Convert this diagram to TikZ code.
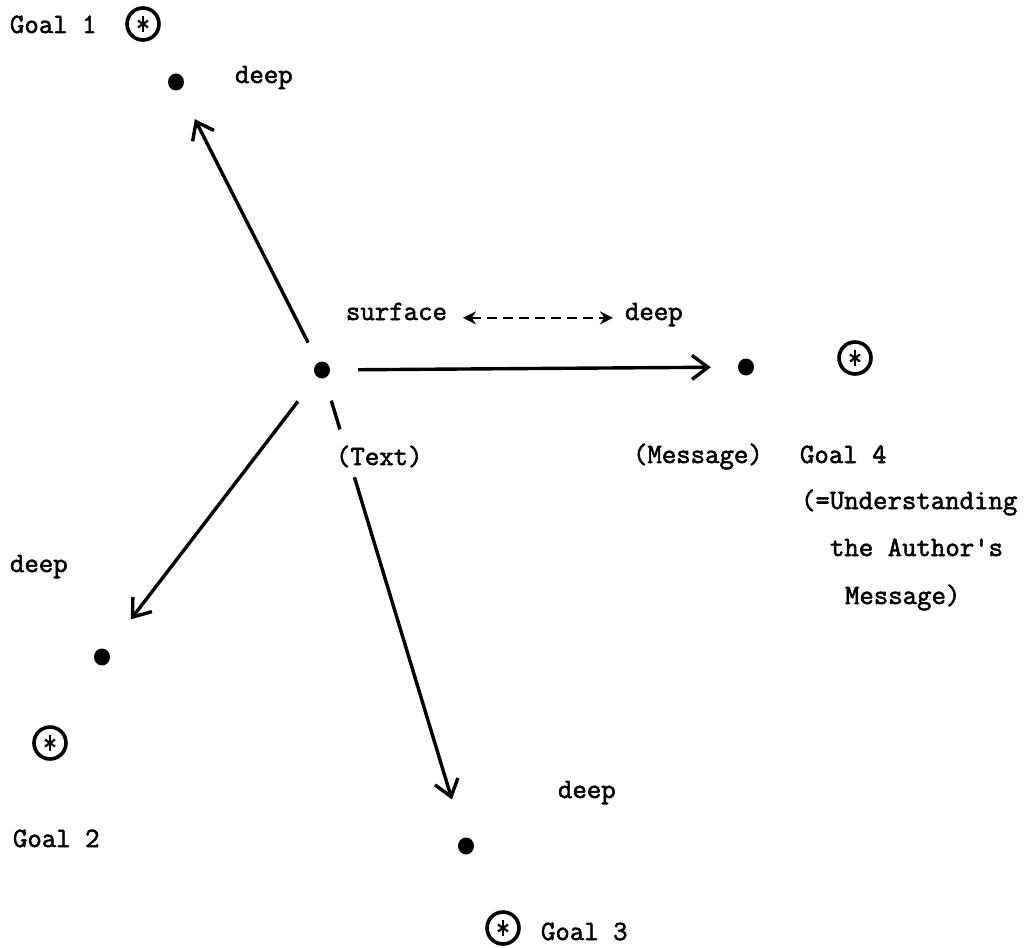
\documentclass[tikz,border=0pt]{standalone}
\usepackage{fontspec}
\newfontfamily\twfont{Latin Modern Mono}[FakeBold=2]
\usetikzlibrary{arrows.meta,calc,shapes.geometric}
\begin{document}
\begin{tikzpicture}[x=1pt,y=-1pt,
  dotnode/.style={ellipse,fill=black,inner sep=0pt,minimum width=16pt,minimum height=17pt},
  goalnode/.style={circle,draw=black,line width=3.6pt,inner sep=0pt,minimum size=32pt,
    path picture={
      \draw[line width=2.6pt] ([yshift=8pt]path picture bounding box.center) -- ([yshift=-8pt]path picture bounding box.center);
      \draw[line width=2.2pt] ([shift={(-5pt,-3.5pt)}]path picture bounding box.center) -- ([shift={(5pt,3.5pt)}]path picture bounding box.center);
      \draw[line width=2.2pt] ([shift={(-5pt,3.5pt)}]path picture bounding box.center) -- ([shift={(5pt,-3.5pt)}]path picture bounding box.center);
    }},
  lbl/.style={inner sep=0pt,outer sep=0pt,anchor=base west,font={\twfont\fontsize{28}{33}\selectfont}},
  mainline/.style={line width=3.4pt},
  mainarr/.style={line width=3.4pt,-{Straight Barb[length=16pt,width=24pt]}},
  dasharr/.style={line width=2.4pt,dash pattern=on 10pt off 6pt,{Stealth[length=13pt,width=13pt]}-{Stealth[length=13pt,width=13pt]}}]
\useasboundingbox (0,0) rectangle (1032,947);
\fill[white] (0,0) rectangle (1032,947);
% dots
\node[dotnode] (c) at (322,370) {};
\node[dotnode] (d1) at (176,82) {};
\node[dotnode] (d2) at (102,657) {};
\node[dotnode] (d3) at (466,846) {};
\node[dotnode] (d4) at (746,367) {};
% goals
\node[goalnode] (g1) at (143,24) {};
\node[goalnode] (g2) at (50,743) {};
\node[goalnode] (g3) at (503,928) {};
\node[goalnode] (g4) at (855,358) {};
% labels
\node[lbl] (t1) at (10,33) {Goal 1};
\node[lbl] (deep1) at (235,83) {deep};
\node[lbl] (surf) at (346,320) {surface};
\node[lbl] (deep4) at (625,320) {deep};
\node[lbl] (text) at (336,465) {(Text)};
\node[lbl] (msg) at (633,463) {(Message)};
\node[lbl] (goal4) at (800,463) {Goal 4};
\node[lbl] (u1) at (801,509) {(=Understanding};
\node[lbl] (u2) at (830,556) {the Author's};
\node[lbl] (u3) at (845,604) {Message)};
\node[lbl] (deep2) at (10,572) {deep};
\node[lbl] (goal2) at (13,847) {Goal 2};
\node[lbl] (deep3) at (558,798) {deep};
\node[lbl] (goal3) at (541,940) {Goal 3};
% connectors
\draw[mainarr,shorten <=22pt,shorten >=33pt] (c) -- (d1);
\draw[mainarr,shorten <=28pt,shorten >=27pt] (c) -- (d4);
\draw[mainarr,shorten <=31pt,shorten >=39pt] (c) -- (d2);
\draw[mainline] ($(c)!32pt!(d3)$) -- ($(c)!62pt!(d3)$);
\draw[mainarr,shorten >=40pt] ($(c)!112pt!(d3)$) -- (d3);
\draw[dasharr] ([xshift=16pt]surf.mid east) -- ([xshift=-12pt]deep4.mid west);
\end{tikzpicture}
\end{document}
